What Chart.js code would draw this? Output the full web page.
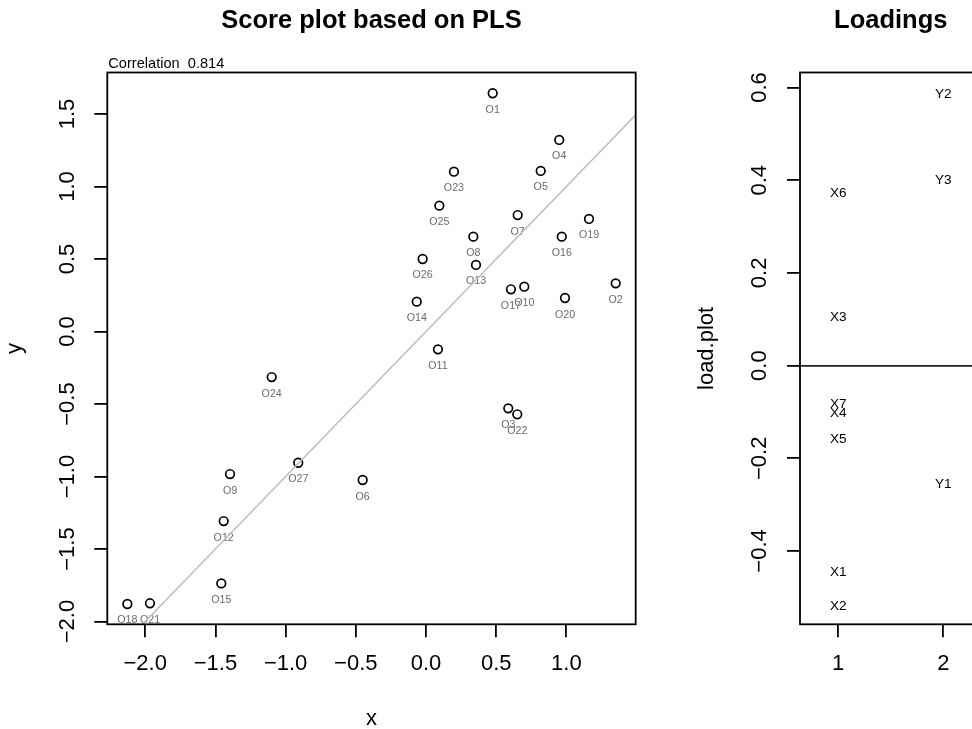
<!DOCTYPE html>
<html>
<head>
  <meta charset="UTF-8">
  <title>Score plot based on PLS</title>
  <script src="https://cdn.jsdelivr.net/npm/chart.js"></script>
  <style>
    html, body { margin: 0; padding: 0; background: #fff; overflow: hidden; }
    body { width: 972px; height: 729px; position: relative; }
    canvas { position: absolute; top: 0; }
    #scores { left: 0; }
    #loadings { left: 692px; }
  </style>
</head>
<body>
  <canvas id="scores" width="692" height="729"></canvas>
  <canvas id="loadings" width="344" height="729"></canvas>
  <script>
    // score plot data
    const obsNames = ['O1','O2','O3','O4','O5','O6','O7','O8','O9','O10','O11','O12','O13','O14',
                      'O15','O16','O17','O18','O19','O20','O21','O22','O23','O24','O25','O26','O27'];
    const scoreX = [0.475, 1.351, 0.586, 0.949, 0.817, -0.451, 0.653, 0.337, -1.396, 0.700, 0.085, -1.441, 0.356, -0.066,
                    -1.458, 0.967, 0.605, -2.127, 1.161, 0.990, -1.966, 0.650, 0.199, -1.099, 0.095, -0.024, -0.910];
    const scoreY = [1.643, 0.332, -0.530, 1.321, 1.107, -1.024, 0.803, 0.654, -0.983, 0.309, -0.123, -1.307, 0.459, 0.206,
                    -1.737, 0.654, 0.291, -1.879, 0.776, 0.231, -1.874, -0.571, 1.102, -0.314, 0.868, 0.500, -0.905];
    const correlation = '0.814';
    const fitIntercept = 0;
    const fitSlope = 1;
    const fitX = [-2.5, 2.0];
    const scoreXTicks = [-2, -1.5, -1, -0.5, 0, 0.5, 1];
    const scoreYTicks = [-2, -1.5, -1, -0.5, 0, 0.5, 1, 1.5];

    // loadings
    const loadNames = ['X1','X2','X3','X4','X5','X6','X7','Y1','Y2','Y3'];
    const loadCol = [1, 1, 1, 1, 1, 1, 1, 2, 2, 2];
    const loadVal = [-0.444, -0.516, 0.107, -0.101, -0.157, 0.374, -0.081, -0.254, 0.588, 0.402];
    const loadXTicks = [1, 2];
    const loadYTicks = [-0.4, -0.2, 0, 0.2, 0.4, 0.6];

    const FONT = '"Liberation Sans", Arial, Helvetica, sans-serif';
    const H = 729;

    function fmt1(v) {
      return (v < 0 ? '\u2212' : '') + Math.abs(v).toFixed(1);
    }

    function xAxis(min, max, ticks, fmt, title) {
      return {
        type: 'linear', position: 'bottom', min: min, max: max,
        afterBuildTicks: s => { s.ticks = ticks.map(v => ({ value: v })); },
        afterFit: s => { s.height = H - 624.3; },
        border: { display: false },
        grid: { drawOnChartArea: false, tickLength: 13, color: '#000', tickColor: '#000', lineWidth: 1.8 },
        ticks: { autoSkip: false, maxRotation: 0, color: '#000', padding: 13.6, font: { family: FONT, size: 22 }, callback: fmt },
        title: { display: !!title, text: title, color: '#000', font: { family: FONT, size: 22 }, padding: { top: 0, bottom: -3.6 } }
      };
    }

    function yAxis(min, max, ticks, title, axisWidth, zeroLine) {
      return {
        type: 'linear', position: 'left', min: min, max: max,
        afterBuildTicks: s => { s.ticks = ticks.map(v => ({ value: v })); },
        afterFit: s => { s.width = axisWidth; },
        border: { display: false },
        grid: {
          drawOnChartArea: zeroLine, tickLength: 13, tickColor: '#000', lineWidth: 1.8,
          color: c => (zeroLine && c.tick && Math.abs(c.tick.value) < 1e-9) ? '#222' : 'rgba(0,0,0,0)'
        },
        ticks: { autoSkip: false, minRotation: 90, maxRotation: 90, crossAlign: 'center', color: '#000', padding: 5,
                 font: { family: FONT, size: 22 }, callback: v => fmt1(v) },
        title: { display: true, text: title, color: '#000', font: { family: FONT, size: 22 }, padding: { top: 2, bottom: 0 } }
      };
    }

    const framePlugin = {
      id: 'frame',
      afterDraw(chart) {
        const a = chart.chartArea, ctx = chart.ctx;
        ctx.save();
        ctx.strokeStyle = '#000';
        ctx.lineWidth = 1.8;
        ctx.strokeRect(a.left, a.top, a.right - a.left, a.bottom - a.top);
        ctx.fillStyle = '#000';
        ctx.textAlign = 'center';
        ctx.font = 'bold 25.5px ' + FONT;
        ctx.fillText(chart.options.plugins.frame.title, (a.left + a.right) / 2, 28.3);
        if (chart.options.plugins.frame.note) {
          ctx.textAlign = 'left';
          ctx.font = '14.6px ' + FONT;
          ctx.fillText(chart.options.plugins.frame.note, a.left + 1, 68.3);
        }
        ctx.restore();
      }
    };

    const obsLabels = {
      id: 'obsLabels',
      beforeDatasetsDraw(chart) {
        const ctx = chart.ctx;
        const meta = chart.getDatasetMeta(0);
        ctx.save();
        ctx.font = '10.7px ' + FONT;
        ctx.fillStyle = '#6b6b6b';
        ctx.textAlign = 'center';
        meta.data.forEach((pt, i) => ctx.fillText(obsNames[i], pt.x, pt.y + 19.5));
        ctx.restore();
      }
    };

    const loadLabels = {
      id: 'loadLabels',
      afterDatasetsDraw(chart) {
        const ctx = chart.ctx;
        const meta = chart.getDatasetMeta(0);
        ctx.save();
        ctx.font = '13.6px ' + FONT;
        ctx.fillStyle = '#000';
        ctx.textAlign = 'center';
        meta.data.forEach((pt, i) => ctx.fillText(loadNames[i], pt.x, pt.y + 4.9));
        ctx.restore();
      }
    };

    new Chart(document.getElementById('scores'), {
      type: 'scatter',
      data: {
        datasets: [{
          data: scoreX.map((x, i) => ({ x: x, y: scoreY[i] })),
          pointStyle: 'circle', pointRadius: 4.3, pointBorderWidth: 1.7,
          pointBorderColor: '#000', pointBackgroundColor: 'rgba(0,0,0,0)', order: 2
        }, {
          data: fitX.map(x => ({ x: x, y: fitIntercept + fitSlope * x })),
          showLine: true, borderColor: '#bebebe', borderWidth: 1.5, pointRadius: 0, order: 1
        }]
      },
      options: {
        responsive: false, animation: false, events: [], devicePixelRatio: 1,
        layout: { padding: { left: 0, top: 72.5, right: 692 - 635.7, bottom: 0 } },
        scales: {
          x: xAxis(-2.270, 1.4936, scoreXTicks, v => fmt1(v), 'x'),
          y: yAxis(-2.019, 1.786, scoreYTicks, 'y', 107.3, false)
        },
        plugins: {
          legend: { display: false }, tooltip: { enabled: false },
          frame: { title: 'Score plot based on PLS', note: 'Correlation  ' + correlation }
        }
      },
      plugins: [framePlugin, obsLabels]
    });

    new Chart(document.getElementById('loadings'), {
      type: 'scatter',
      data: {
        datasets: [{
          data: loadCol.map((c, i) => ({ x: c, y: loadVal[i] })),
          pointRadius: 0
        }]
      },
      options: {
        responsive: false, animation: false, events: [], devicePixelRatio: 1,
        layout: { padding: { left: 0, top: 72.5, right: 344 - 289.5, bottom: 0 } },
        scales: {
          x: xAxis(0.636, 2.364, loadXTicks, v => String(v), ''),
          y: yAxis(-0.5582, 0.6324, loadYTicks, 'load.plot', 108, true)
        },
        plugins: {
          legend: { display: false }, tooltip: { enabled: false },
          frame: { title: 'Loadings', note: '' }
        }
      },
      plugins: [framePlugin, loadLabels]
    });
  </script>
</body>
</html>
